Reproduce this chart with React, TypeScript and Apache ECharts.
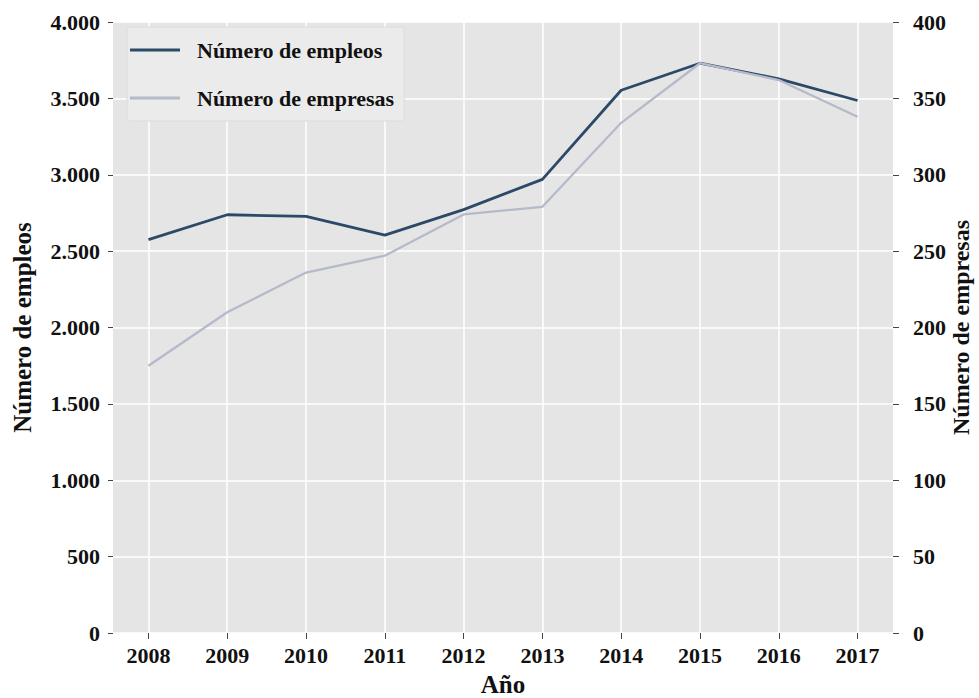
import React, { useEffect, useRef } from "react";
import * as echarts from "echarts";

const years = [2008, 2009, 2010, 2011, 2012, 2013, 2014, 2015, 2016, 2017];
const empleos = [2575, 2738, 2727, 2605, 2772, 2970, 3553, 3730, 3628, 3486];
const empresas = [175, 210, 236, 247, 274, 279, 334, 373, 362, 338];
const leftTicks = [0, 500, 1000, 1500, 2000, 2500, 3000, 3500, 4000];
const rightTicks = [0, 50, 100, 150, 200, 250, 300, 350, 400];

const serieEmpleos = "Número de empleos";
const serieEmpresas = "Número de empresas";

const FONT = "'Liberation Serif', 'Times New Roman', serif";

function fmtThousands(v: number): string {
  if (v >= 1000) {
    const th = Math.floor(v / 1000);
    const rest = String(v % 1000).padStart(3, "0");
    return `${th}.${rest}`;
  }
  return String(v);
}

export default function App() {
  const ref = useRef<HTMLDivElement>(null);

  useEffect(() => {
    if (!ref.current) return;
    const chart = echarts.init(ref.current, undefined, { renderer: "svg" });
    const labelStyle = {
      fontFamily: FONT,
      fontWeight: "bold" as const,
      fontSize: 22,
      color: "#111",
    };
    const nameStyle = {
      fontFamily: FONT,
      fontWeight: "bold" as const,
      fontSize: 25,
      lineHeight: 20,
      color: "#111",
    };
    chart.setOption({
      animation: false,
      backgroundColor: "#ffffff",
      grid: {
        left: 113,
        right: 86,
        top: 22,
        bottom: 65,
        containLabel: false,
        outerBoundsMode: "none",
        show: true,
        backgroundColor: "#E5E5E5",
        borderWidth: 0,
      },
      legend: {
        orient: "vertical",
        left: 127,
        top: 27,
        icon: "rect",
        itemWidth: 50,
        itemHeight: 3,
        itemGap: 26,
        padding: [12, 10, 12, 3],
        backgroundColor: "#EBEBEB",
        borderColor: "#DCDCDC",
        borderWidth: 1,
        borderRadius: 2,
        textStyle: { ...labelStyle, padding: [0, 0, 0, 12] },
        data: [serieEmpleos, serieEmpresas],
      },
      xAxis: {
        type: "value",
        min: 2007.55,
        max: 2017.45,
        name: "Año",
        nameLocation: "middle",
        nameGap: 41,
        nameTextStyle: nameStyle,
        axisLine: { show: false },
        axisTick: {
          show: true,
          customValues: years,
          length: 6,
          lineStyle: { color: "#444", width: 1 },
        },
        axisLabel: {
          ...labelStyle,
          customValues: years,
          margin: 11,
          formatter: (v: number) => String(Math.round(v)),
        },
        splitLine: { show: true, lineStyle: { color: "#ffffff", width: 1.5 } },
      },
      yAxis: [
        {
          type: "value",
          min: 0,
          max: 4000,
          interval: 500,
          position: "left",
          name: serieEmpleos,
          nameLocation: "middle",
          nameRotate: 90,
          nameGap: 81,
          nameTextStyle: nameStyle,
          axisLine: { show: false },
          axisTick: { show: true, length: 5, lineStyle: { color: "#444", width: 1 } },
          axisLabel: {
            ...labelStyle,
            margin: 13,
            customValues: leftTicks,
            formatter: (v: number) => fmtThousands(v),
          },
          splitLine: { show: true, lineStyle: { color: "#ffffff", width: 1.5 } },
        },
        {
          type: "value",
          min: 0,
          max: 400,
          interval: 50,
          position: "right",
          name: serieEmpresas,
          nameLocation: "middle",
          nameRotate: 90,
          nameGap: 58,
          nameMoveOverlap: false,
          nameTextStyle: { ...nameStyle, fontSize: 24 },
          axisLine: { show: false },
          axisTick: { show: true, length: 6, lineStyle: { color: "#444", width: 1 } },
          axisLabel: {
            ...labelStyle,
            margin: 20,
            customValues: rightTicks,
          },
          splitLine: { show: false },
        },
      ],
      series: [
        {
          name: serieEmpleos,
          type: "line",
          yAxisIndex: 0,
          symbol: "none",
          showSymbol: false,
          color: "#2C4A68",
          lineStyle: { color: "#2C4A68", width: 2.8 },
          data: years.map((y, i) => [y, empleos[i]]),
        },
        {
          name: serieEmpresas,
          type: "line",
          yAxisIndex: 1,
          symbol: "none",
          showSymbol: false,
          color: "#B5BACA",
          lineStyle: { color: "#B5BACA", width: 2.3 },
          data: years.map((y, i) => [y, empresas[i]]),
        },
      ],
    });
    const onResize = () => chart.resize();
    window.addEventListener("resize", onResize);
    return () => {
      window.removeEventListener("resize", onResize);
      chart.dispose();
    };
  }, []);

  return (
    <div
      ref={ref}
      style={{ position: "fixed", left: 0, top: 0, width: "100vw", height: "100vh", background: "#fff" }}
    />
  );
}
